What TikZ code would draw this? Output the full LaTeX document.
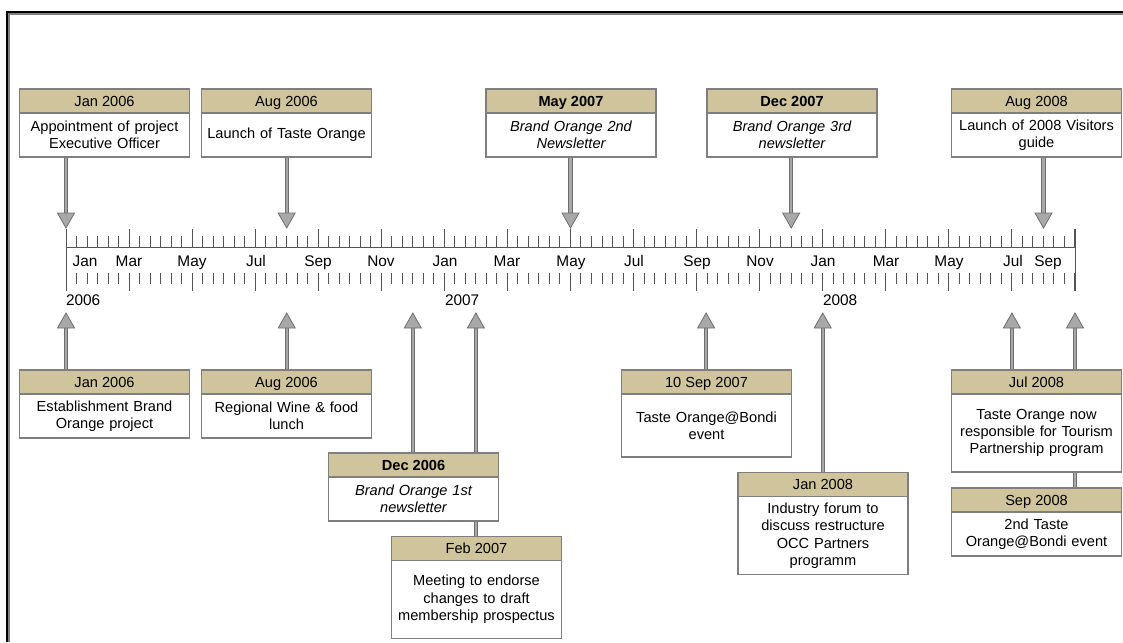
\documentclass[tikz,border=0pt]{standalone}
\usepackage{fontspec}
\setmainfont{Liberation Sans}
\usetikzlibrary{positioning,backgrounds}
\definecolor{headtan}{HTML}{CFC49B}
\definecolor{boxline}{HTML}{7F7F7F}
\definecolor{stemfill}{HTML}{A8A8A8}
\definecolor{stemline}{HTML}{6E6E6E}
\definecolor{axisgray}{HTML}{555555}

\begin{document}
\begin{tikzpicture}[x=1pt, y=-1pt]
\tikzstyle{every node} = [inner sep=0pt, outer sep=0pt, font=\fontsize{14.6}{17.3}\selectfont]
\tikzstyle{datebox} = [draw=boxline, line width=1.2pt, fill=headtan, minimum width=170, minimum height=24, text height=11.5pt, text depth=1.5pt]
\tikzstyle{notebox} = [draw=boxline, line width=1.2pt, fill=white, minimum width=170, minimum height=44, text width=166, align=center]
\tikzstyle{stem} = [draw=stemline, line width=1pt, double=stemfill, double distance=2.2pt, shorten >=14pt]
\tikzstyle{tiptri} = [fill=stemfill, draw=stemline, line width=0.8pt]
\tikzstyle{tick} = [draw=axisgray, line width=1pt]
\tikzstyle{axislabel} = [font=\fontsize{15.4}{17}\selectfont, text height=13pt, text depth=1.6pt]

\useasboundingbox (0,0) rectangle (1123,642);
\draw[line width=2pt] (7,642) -- (7,12.3) -- (1123,12.3);
\draw[gray, line width=1.6pt] (8.9,642) -- (8.9,14.1) -- (1123,14.1);

% axis
\draw[tick] (66,247) -- (1075,247);
\draw[tick] (66,229) -- (66,291);
\draw[tick] (1075,229) -- (1075,291);
\foreach \i in {0,...,96} {
  \draw[tick] (66+\i*10.51,236) -- (66+\i*10.51,247);
  \draw[tick] (66+\i*10.51,273) -- (66+\i*10.51,284);
}
\foreach \i in {0,6,...,96} {
  \draw[tick] (66+\i*10.51,229) -- (66+\i*10.51,247);
  \draw[tick] (66+\i*10.51,273) -- (66+\i*10.51,291);
}
\foreach \x/\m [count=\k] in {85/Jan, 129/Mar, 192/May, 256/Jul, 318/Sep, 381/Nov, 445/Jan, 507/Mar, 571/May, 634/Jul, 697/Sep, 760/Nov, 823/Jan, 886/Mar, 949/May, 1013/Jul, 1048/Sep}
  \node[axislabel] (m\k) at (\x,261) {\m};
\node[axislabel, anchor=west] (y1) at (66,300) {2006};
\node[axislabel, anchor=west] (y2) at (445,300) {2007};
\node[axislabel, anchor=west] (y3) at (823,300) {2008};

% above the axis
\node[datebox] (d1) at (104.5,101) {Jan 2006};
\node[notebox, below=0pt of d1] (n1) {Appointment of project\\Executive Officer};
\node[datebox] (d2) at (286.5,101) {Aug 2006};
\node[notebox, below=0pt of d2] (n2) {Launch of Taste Orange};
\node[datebox, font=\fontsize{14.6}{17.3}\selectfont\bfseries] (d3) at (571,101) {May 2007};
\node[notebox, below=0pt of d3, font=\fontsize{14.6}{17.3}\selectfont\itshape] (n3) {Brand Orange 2nd\\Newsletter};
\node[datebox, font=\fontsize{14.6}{17.3}\selectfont\bfseries] (d4) at (792,101) {Dec 2007};
\node[notebox, below=0pt of d4, font=\fontsize{14.6}{17.3}\selectfont\itshape] (n4) {Brand Orange 3rd\\newsletter};
\node[datebox] (d5) at (1036.5,101) {Aug 2008};
\node[notebox, below=0pt of d5] (n5) {Launch of 2008 Visitors\\guide};

% below the axis
\node[datebox] (d6) at (104.5,382) {Jan 2006};
\node[notebox, below=0pt of d6] (n6) {Establishment Brand\\Orange project};
\node[datebox] (d7) at (286.5,382) {Aug 2006};
\node[notebox, below=0pt of d7] (n7) {Regional Wine \& food\\lunch};
\node[datebox, font=\fontsize{14.6}{17.3}\selectfont\bfseries] (d8) at (413.5,465) {Dec 2006};
\node[notebox, below=0pt of d8, font=\fontsize{14.6}{17.3}\selectfont\itshape] (n8) {Brand Orange 1st\\newsletter};
\node[datebox] (d9) at (476.5,548.5) {Feb 2007};
\node[notebox, below=0pt of d9, minimum height=78] (n9) {Meeting to endorse\\changes to draft\\membership prospectus};
\node[datebox] (d10) at (706.5,382) {10 Sep 2007};
\node[notebox, below=0pt of d10, minimum height=63] (n10) {Taste Orange@Bondi\\event};
\node[datebox] (d11) at (823,484.8) {Jan 2008};
\node[notebox, below=0pt of d11, minimum height=78] (n11) {Industry forum to\\discuss restructure\\OCC Partners\\programm};
\node[datebox] (d12) at (1036.5,382) {Jul 2008};
\node[notebox, below=0pt of d12, minimum height=78] (n12) {Taste Orange now\\responsible for Tourism\\Partnership program};
\node[datebox] (d13) at (1036.5,500) {Sep 2008};
\node[notebox, below=0pt of d13] (n13) {2nd Taste\\Orange@Bondi event};

\coordinate (t1) at (66,228);
\coordinate (t2) at (286.7,228);
\coordinate (t3) at (570.5,228);
\coordinate (t4) at (791.2,228);
\coordinate (t5) at (1043.5,228);
\coordinate (t6) at (66,313);
\coordinate (t7) at (286.7,313);
\coordinate (t8) at (412.8,313);
\coordinate (t9) at (475.9,313);
\coordinate (t10) at (706.1,313);
\coordinate (t11) at (822.7,313);
\coordinate (t12) at (1011.9,313);
\coordinate (t13) at (1075,313);

\begin{scope}[on background layer]
\draw[stem] (t1 |- n1.south) -- (t1);
\draw[stem] (t2 |- n2.south) -- (t2);
\draw[stem] (t3 |- n3.south) -- (t3);
\draw[stem] (t4 |- n4.south) -- (t4);
\draw[stem] (t5 |- n5.south) -- (t5);
\draw[stem] (t6 |- d6.north) -- (t6);
\draw[stem] (t7 |- d7.north) -- (t7);
\draw[stem] (t8 |- d8.north) -- (t8);
\draw[stem] (t9 |- d9.north) -- (t9);
\draw[stem] (t10 |- d10.north) -- (t10);
\draw[stem] (t11 |- d11.north) -- (t11);
\draw[stem] (t12 |- d12.north) -- (t12);
\draw[stem] (t13 |- d13.north) -- (t13);
\end{scope}

\foreach \t in {1,...,5}
  \filldraw[tiptri] (t\t) -- ++(-8.5,-15) -- ++(17,0) -- cycle;
\foreach \t in {6,...,13}
  \filldraw[tiptri] (t\t) -- ++(-8.5,15) -- ++(17,0) -- cycle;
\end{tikzpicture}
\end{document}
